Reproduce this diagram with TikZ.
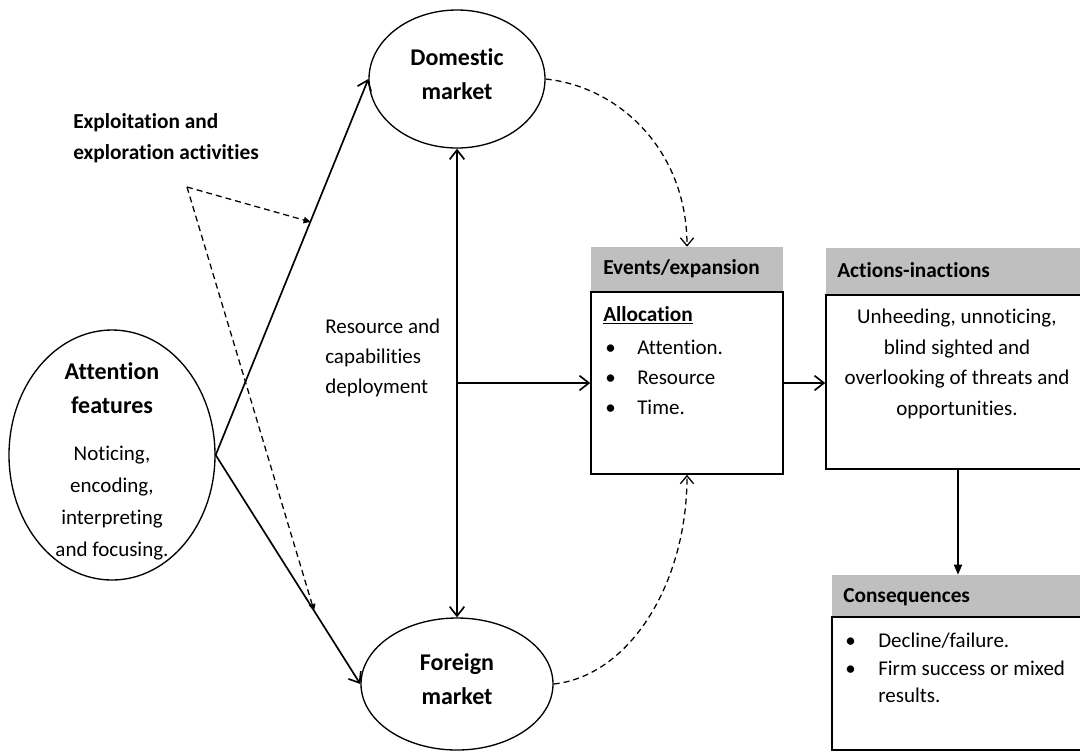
\documentclass[tikz,border=0pt]{standalone}
\usepackage{fontspec}
\setmainfont{Carlito}[Ligatures={NoCommon}]
\usetikzlibrary{arrows.meta,shapes.geometric,calc}
\definecolor{hdr}{RGB}{191,191,191}
\begin{document}
\begin{tikzpicture}[x=0.75pt,y=-0.75pt,
  oval/.style={ellipse,draw,line width=1pt,inner sep=0pt},
  hdrbox/.style={rectangle,fill=hdr,inner sep=0pt},
  bodybox/.style={rectangle,draw,line width=1.2pt,inner sep=0pt},
  conn/.style={line width=1.25pt,-{Straight Barb[length=7pt,width=11pt]}},
  dconn/.style={line width=0.95pt,dash pattern=on 4.5pt off 3pt,-{Triangle[length=5pt,width=5pt]}},
  cconn/.style={line width=0.95pt,dash pattern=on 4.5pt off 3pt,-{Straight Barb[length=6pt,width=10pt]}},
  title/.style={font=\fontsize{18}{25.5}\selectfont\bfseries,align=center,inner sep=0pt},
  body/.style={font=\fontsize{15.75}{22.5}\selectfont,inner sep=0pt},
  head/.style={font=\fontsize{16}{20}\selectfont\bfseries,inner sep=0pt,anchor=west},
]
\fill[white] (0,0) rectangle (1080,751);
\useasboundingbox (0,0) rectangle (1080,751);
\clip (0,0) rectangle (1080,751);

% ellipses
\node[oval,minimum width=132pt,minimum height=103.5pt] (dom) at (457,79) {};
\node[oval,minimum width=144pt,minimum height=99pt] (frn) at (457,684) {};
\node[oval,minimum width=154.5pt,minimum height=187.5pt] (att) at (112,455) {};

\node[title] (domt) at (457,74) {Domestic\\market};
\node[title] (frnt) at (457,679) {Foreign\\market};
\node[title] (attt) at (112,388) {Attention\\features};
\node[body,align=center,font=\fontsize{15.75}{24}\selectfont] (attb) at (112,503) {Noticing,\\encoding,\\interpreting\\and focusing.};

\node[font=\fontsize{16}{23}\selectfont\bfseries,align=left,anchor=west,inner sep=0pt] (expl) at (73,138) {Exploitation and\\exploration activities};
\node[body,align=left,anchor=west] (res) at (325,358) {Resource and\\capabilities\\deployment};

% boxes
\node[hdrbox,minimum width=144pt,minimum height=33.75pt] (evh) at (687,269.5) {};
\node[bodybox,minimum width=144pt,minimum height=136.5pt] (evb) at (687,383) {};
\node[hdrbox,minimum width=198pt,minimum height=35.25pt] (ach) at (958,271.5) {};
\node[bodybox,minimum width=198pt,minimum height=130.5pt] (acb) at (958,382) {};
\node[hdrbox,minimum width=193.5pt,minimum height=31.5pt] (cqh) at (961,596) {};
\node[bodybox,minimum width=193.5pt,minimum height=99.75pt] (cqb) at (961,683.5) {};

\node[head] (evt) at (603,269) {Events/expansion};
\node[head] (act) at (837,270) {Actions-inactions};
\node[head] (cqt) at (843,597) {Consequences};

\node[head] (alloc) at (603,315) {\underline{Allocation}};
\node[body,align=left,anchor=west] (evl) at (605,377) {\makebox[24pt][l]{•}Attention.\\\makebox[24pt][l]{•}Resource\\\makebox[24pt][l]{•}Time.};
\node[body,align=center,font=\fontsize{15.75}{23}\selectfont] (acl) at (957,364) {Unheeding, unnoticing,\\blind sighted and\\overlooking of threats and\\opportunities.};
\node[body,align=left,anchor=west,font=\fontsize{15.75}{20.6}\selectfont] (cql) at (845,668) {\makebox[24.75pt][l]{•}Decline/failure.\\\makebox[24.75pt][l]{•}Firm success or mixed\\\hspace*{24.75pt}results.};

% connectors
\draw[conn] (att.east) -- (dom.west);
\draw[conn] (att.east) -- (frn.west);
\draw[conn,{Straight Barb[length=7pt,width=11pt]}-{Straight Barb[length=7pt,width=11pt]}] (dom.south) -- (frn.north);
\draw[conn] (dom.south |- evb.west) -- (evb.west);
\draw[conn] (evb.east) -- (evb.east -| acb.west);
\draw[line width=1.25pt,-{Triangle[length=7.5pt,width=6pt]}] (acb.south) -- (acb.south |- cqh.north);

\coordinate (corner) at (187,187);
\draw[dconn] (corner) -- ($(att.east)!0.62!(dom.west)$);
\draw[dconn] (corner) -- ($(att.east)!0.68!(frn.west)$);
\draw[cconn] (dom.east) .. controls +(75,8) and +(0,-95) .. (evh.north);
\draw[cconn] (frn.east) .. controls +(75,-8) and +(0,110) .. (evb.south);
\end{tikzpicture}
\end{document}
